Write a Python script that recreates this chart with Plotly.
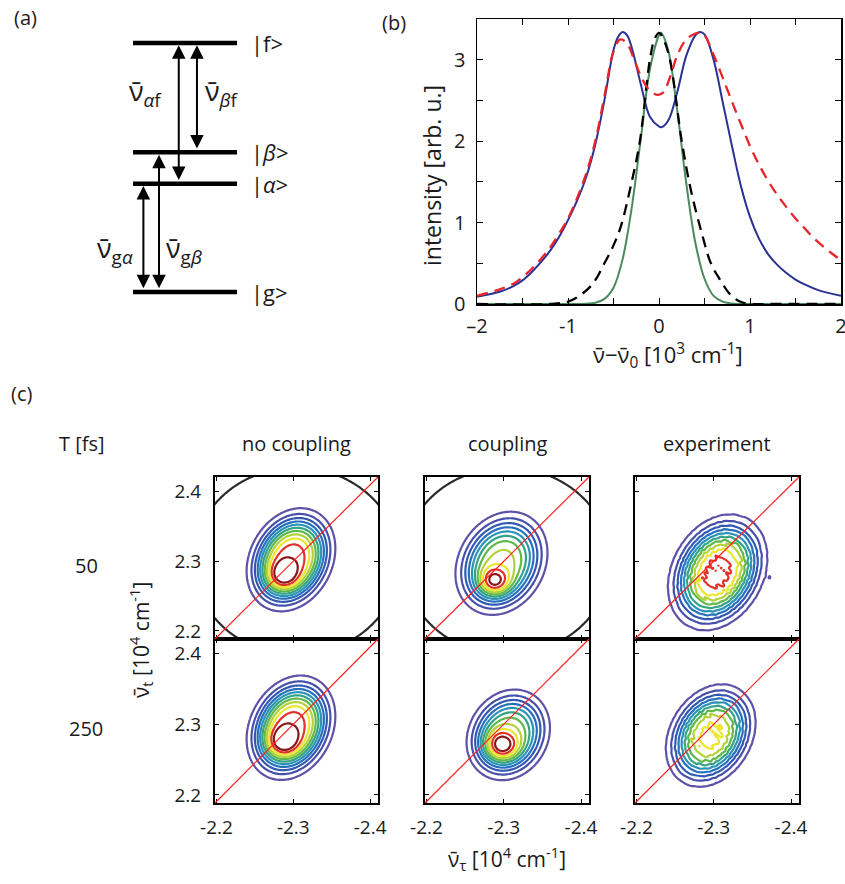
import numpy as np
import plotly.graph_objects as go

W, H = 845, 884
FONT = "Open Sans"
NU = "\u03bd\u0304"

# ---------------- panel (a): level diagram ----------------
LEVEL_LABELS = ["|g&gt;", "|<i>α</i>&gt;", "|<i>β</i>&gt;", "|f&gt;"]
LEVEL_ENERGIES = [0.0, 1.0, 1.29, 2.30]
TRANS_FROM = [1, 2, 0, 0]
TRANS_TO = [3, 3, 1, 2]
TRANS_X = [0.44, 0.615, 0.10, 0.25]
TRANS_LABELS = [NU + "<sub><i>α</i>f</sub>", NU + "<sub><i>β</i>f</sub>",
                NU + "<sub>g<i>α</i></sub>", NU + "<sub>g<i>β</i></sub>"]
TRANS_LABEL_X = [0.12, 0.86, -0.17, 0.49]
TRANS_LABEL_Y = [1.84, 1.84, 0.39, 0.39]

# ---------------- panel (b): spectra ----------------
BLUE_X = [-2.0, -1.75, -1.6, -1.5, -1.4, -1.3, -1.2, -1.1, -1.0, -0.9, -0.8, -0.7, -0.6, -0.5,
          -0.45, -0.4, -0.35, -0.3, -0.2, -0.1, 0.0, 0.025, 0.1, 0.2, 0.3, 0.4, 0.45, 0.5, 0.6,
          0.7, 0.8, 0.9, 1.0, 1.1, 1.2, 1.3, 1.4, 1.5, 1.6, 1.75, 2.0]
BLUE_Y = [0.09, 0.15, 0.22, 0.29, 0.39, 0.51, 0.65, 0.82, 1.03, 1.27, 1.56, 1.96, 2.5, 3.12,
          3.28, 3.34, 3.3, 3.15, 2.7, 2.3, 2.18, 2.17, 2.25, 2.6, 3.05, 3.3, 3.34, 3.31, 3.0,
          2.48, 1.95, 1.45, 1.07, 0.8, 0.61, 0.48, 0.38, 0.3, 0.24, 0.17, 0.1]
RED_X = [-2.0, -1.75, -1.6, -1.5, -1.4, -1.3, -1.2, -1.1, -1.0, -0.9, -0.8, -0.7, -0.6, -0.5,
         -0.425, -0.35, -0.28, -0.2, -0.13, -0.05, 0.0, 0.05, 0.125, 0.2, 0.3, 0.4, 0.45, 0.5,
         0.6, 0.7, 0.8, 0.9, 1.0, 1.1, 1.2, 1.3, 1.4, 1.5, 1.6, 1.7, 1.8, 1.9, 2.0]
RED_Y = [0.1, 0.18, 0.25, 0.33, 0.43, 0.55, 0.69, 0.86, 1.05, 1.3, 1.6, 2.0, 2.55, 3.1,
         3.25, 3.2, 3.02, 2.8, 2.66, 2.58, 2.57, 2.6, 2.8, 3.05, 3.25, 3.32, 3.33, 3.3,
         3.06, 2.78, 2.49, 2.21, 1.94, 1.71, 1.51, 1.34, 1.19, 1.05, 0.93, 0.81, 0.71, 0.62, 0.54]
BLACK_X = [-2.0, -1.2, -1.0, -0.85, -0.72, -0.6, -0.5, -0.42, -0.3, -0.21, -0.1, -0.05, 0.0,
           0.05, 0.12, 0.25, 0.35, 0.47, 0.57, 0.67, 0.78, 0.89, 1.0, 1.2, 2.0]
BLACK_Y = [0.0, 0.0, 0.03, 0.12, 0.26, 0.5, 0.72, 0.95, 1.5, 2.0, 3.0, 3.25, 3.33,
           3.25, 3.0, 2.0, 1.4, 0.87, 0.5, 0.3, 0.12, 0.03, 0.0, 0.0, 0.0]
GREEN_X = [-2.0, -1.0, -0.8, -0.7, -0.6, -0.5, -0.4, -0.3, -0.2, -0.1, 0.0, 0.02, 0.1, 0.2,
           0.3, 0.4, 0.5, 0.6, 0.7, 0.8, 1.0, 2.0]
GREEN_Y = [0.0, 0.0, 0.004, 0.016, 0.063, 0.2, 0.55, 1.18, 2.03, 2.88, 3.3, 3.33, 3.12, 2.38,
           1.48, 0.75, 0.31, 0.1, 0.03, 0.005, 0.0, 0.0]
B_XTICKS = [-2, -1.5, -1, -0.5, 0, 0.5, 1, 1.5, 2]
B_XTICKTEXT = ["\u20132", "", "-1", "", "0", "", "1", "", "2"]
B_YTICKS = [0, 0.5, 1, 1.5, 2, 2.5, 3, 3.5]
B_YTICKTEXT = ["0", "", "1", "", "2", "", "3", ""]

# ---------------- panel (c): 2D spectra ----------------
COL_TITLES = ["no coupling", "coupling", "experiment"]
ROW_LABELS = ["50", "250"]
TAU_TICKS = [-2.2, -2.3, -2.4]
TAU_TICKTEXT = ["-2.2", "-2.3", "-2.4"]
T_TICKS = [2.2, 2.3, 2.4]
CONTOUR_LEVELS = [0.08, 0.165, 0.25, 0.335, 0.42, 0.505, 0.59, 0.675, 0.76, 0.845, 0.93]
LEVEL_COLORS = ["#5d52a8", "#4650ab", "#3158b3", "#2470bf", "#2a93b8", "#33a383",
                "#5fb84a", "#b3d13a", "#ece62e", "#e2332a", "#8a1616"]
# panel order: T=50 (no coupling, coupling, experiment), T=250 (same)
BODY_U0 = [2.297, 2.297, 2.305, 2.297, 2.306, 2.296]
BODY_V0 = [2.302, 2.297, 2.284, 2.295, 2.285, 2.284]
BODY_AU = [0.043, 0.046, 0.048, 0.043, 0.042, 0.044]
BODY_AV = [0.055, 0.057, 0.062, 0.055, 0.050, 0.055]
BODY_RHO = [0.22, 0.20, 0.25, 0.22, 0.15, 0.25]
BODY_AMP = [0.90, 0.70, 0.88, 0.90, 0.65, 0.785]
PEAK_U0 = [2.286, 2.2874, 2.299, 2.286, 2.297, 2.295]
PEAK_V0 = [2.278, 2.270, 2.270, 2.274, 2.270, 2.270]
PEAK_S = [0.014, 0.014, 0.015, 0.014, 0.015, 0.015]
PEAK_AMP = [0.25, 0.35, 0.0, 0.25, 0.40, 0.0]
BLOB_U0 = [0.0, 0.0, 2.373, 0.0, 0.0, 0.0]
BLOB_V0 = [0.0, 0.0, 2.277, 0.0, 0.0, 0.0]
BLOB_AMP = [0.0, 0.0, 0.06, 0.0, 0.0, 0.0]
IS_EXPERIMENT = [False, False, True, False, False, True]
ARC_RADIUS = [0.134, 0.134, None, None, None, None]
ARC_CENTER = (2.304, 2.300)
RIPPLE_KU = [430.0, 610.0, 530.0]
RIPPLE_KV = [380.0, 470.0, 660.0]
RIPPLE_PHASE = [0.3, 1.7, 2.9]
RIPPLE_AMP = 0.06


def px_x(p):
    """reference pixel -> paper fraction"""
    return p / W


def px_y(p):
    return 1 - p / H


fig = go.Figure()
annotations = []
shapes = []

# ---------- panel (a) ----------
A_LEFT, A_UNIT_X = 133.0, 104.0
A_G, A_UNIT_Y = 292.0, 108.26
A_DOM_X = (0.0, 338.0)
A_DOM_Y = (0.0, 330.0)
for e in LEVEL_ENERGIES:
    fig.add_trace(go.Scatter(x=[0, 1], y=[e, e], mode="lines", line=dict(color="black", width=4.5),
                             xaxis="x", yaxis="y", showlegend=False, hoverinfo="skip"))
for lab, e in zip(LEVEL_LABELS, LEVEL_ENERGIES):
    annotations.append(dict(x=1.12, y=e, xref="x", yref="y", text=lab, showarrow=False,
                            xanchor="left", yanchor="middle", font=dict(size=22)))
half = 2.3 / A_UNIT_Y
for i in range(len(TRANS_FROM)):
    e0 = LEVEL_ENERGIES[TRANS_FROM[i]]
    e1 = LEVEL_ENERGIES[TRANS_TO[i]]
    annotations.append(dict(x=TRANS_X[i], y=e1 - half, ax=TRANS_X[i], ay=e0 + half,
                            xref="x", yref="y", axref="x", ayref="y", text="", showarrow=True,
                            arrowhead=2, startarrowhead=2, arrowside="end+start",
                            arrowsize=1.35, startarrowsize=1.35, arrowwidth=2, arrowcolor="black"))
    annotations.append(dict(x=TRANS_LABEL_X[i], y=TRANS_LABEL_Y[i], xref="x", yref="y",
                            text=TRANS_LABELS[i], showarrow=False, font=dict(size=27),
                            xanchor="center", yanchor="middle"))

layout_axes = {}
layout_axes["xaxis"] = dict(domain=[px_x(A_DOM_X[0]), px_x(A_DOM_X[1])], autorange=False,
                            range=[(A_DOM_X[0] - A_LEFT) / A_UNIT_X, (A_DOM_X[1] - A_LEFT) / A_UNIT_X],
                            visible=False, anchor="y", fixedrange=True, automargin=False)
layout_axes["yaxis"] = dict(domain=[px_y(A_DOM_Y[1]), px_y(A_DOM_Y[0])], autorange=False,
                            range=[(A_G - A_DOM_Y[1]) / A_UNIT_Y, (A_G - A_DOM_Y[0]) / A_UNIT_Y],
                            visible=False, anchor="x", fixedrange=True, automargin=False)

# ---------- panel (b) ----------
fig.add_trace(go.Scatter(x=BLUE_X, y=BLUE_Y, mode="lines", line=dict(color="#2a3193", width=2, shape="spline"),
                         xaxis="x2", yaxis="y2", showlegend=False))
fig.add_trace(go.Scatter(x=GREEN_X, y=GREEN_Y, mode="lines", line=dict(color="#4b8a5e", width=2, shape="spline"),
                         xaxis="x2", yaxis="y2", showlegend=False))
fig.add_trace(go.Scatter(x=BLACK_X, y=BLACK_Y, mode="lines",
                         line=dict(color="black", width=2.3, shape="spline", dash="11px,7px"),
                         xaxis="x2", yaxis="y2", showlegend=False))
fig.add_trace(go.Scatter(x=RED_X, y=RED_Y, mode="lines",
                         line=dict(color="#e8232a", width=2.3, shape="spline", dash="11px,7px"),
                         xaxis="x2", yaxis="y2", showlegend=False))
axis_common = dict(showgrid=False, zeroline=False, showline=True, linecolor="black", mirror="ticks",
                   ticks="inside", tickcolor="black", fixedrange=True, autorange=False, automargin=False,
                   ticklabeloverflow="allow")
layout_axes["xaxis2"] = dict(axis_common, domain=[px_x(477), px_x(841)], anchor="y2", range=[-2, 2],
                             tickvals=B_XTICKS, ticktext=B_XTICKTEXT, ticklen=6, linewidth=1.5,
                             tickfont=dict(size=20), ticklabelstandoff=3)
layout_axes["yaxis2"] = dict(axis_common, domain=[px_y(304), px_y(19)], anchor="x2", range=[0, 3.5],
                             tickvals=B_YTICKS, ticktext=B_YTICKTEXT, ticklen=6, linewidth=1.5,
                             tickfont=dict(size=20), ticklabelstandoff=6)

# ---------- panel (c) ----------
COL_PX = [(215, 378), (425, 589), (635, 799)]
ROW_PX = [(477, 639), (639, 803)]
X_RANGE = [-2.198, -2.4103]
Y_RANGE = [2.1885, 2.4205]

n_lev = len(CONTOUR_LEVELS)
colorscale = [[k / (n_lev - 1), c] for k, c in enumerate(LEVEL_COLORS)]
step = CONTOUR_LEVELS[1] - CONTOUR_LEVELS[0]


def field(i, xs, ys):
    X, Y = np.meshgrid(xs, ys)
    U = -X
    V = Y
    du = (U - BODY_U0[i]) / BODY_AU[i]
    dv = (V - BODY_V0[i]) / BODY_AV[i]
    r = BODY_RHO[i]
    m2 = (du ** 2 - 2 * r * du * dv + dv ** 2) / (1 - r ** 2)
    z = BODY_AMP[i] * np.exp(-np.power(m2, 1.5))
    if PEAK_AMP[i] > 0:
        z += PEAK_AMP[i] * np.exp(-((U - PEAK_U0[i]) ** 2 + (V - PEAK_V0[i]) ** 2) / (2 * PEAK_S[i] ** 2))
    if IS_EXPERIMENT[i]:
        rip = np.zeros_like(z)
        for ku, kv, ph in zip(RIPPLE_KU, RIPPLE_KV, RIPPLE_PHASE):
            rip += np.sin(ku * U + kv * V + ph)
        z = z * (1 + RIPPLE_AMP * rip / len(RIPPLE_KU))
    if BLOB_AMP[i] > 0:
        z += BLOB_AMP[i] * np.exp(-((U - BLOB_U0[i]) ** 2 + (V - BLOB_V0[i]) ** 2) / (2 * 0.003 ** 2))
    return z


for i in range(6):
    row, col = divmod(i, 3)
    ax_id = i + 3
    xa, ya = f"x{ax_id}", f"y{ax_id}"
    if IS_EXPERIMENT[i]:
        xs = np.arange(-2.425, -2.185, 0.0035)
        ys = np.arange(2.185, 2.425, 0.0035)
        smooth = 0.0
    else:
        xs = np.linspace(-2.425, -2.185, 161)
        ys = np.linspace(2.185, 2.425, 161)
        smooth = 1.0
    z = field(i, xs, ys)
    fig.add_trace(go.Contour(x=xs, y=ys, z=z, xaxis=xa, yaxis=ya, autocontour=False,
                             contours=dict(start=CONTOUR_LEVELS[0], end=CONTOUR_LEVELS[-1], size=step,
                                           coloring="lines"),
                             colorscale=colorscale, zmin=CONTOUR_LEVELS[0], zmax=CONTOUR_LEVELS[-1],
                             zauto=False, showscale=False, line=dict(width=2.2, smoothing=smooth),
                             hoverinfo="skip"))
    if ARC_RADIUS[i] is not None:
        X, Y = np.meshgrid(xs, ys)
        rr = np.sqrt((-X - ARC_CENTER[0]) ** 2 + (Y - ARC_CENTER[1]) ** 2)
        fig.add_trace(go.Contour(x=xs, y=ys, z=rr, xaxis=xa, yaxis=ya, autocontour=False,
                                 contours=dict(start=ARC_RADIUS[i], end=ARC_RADIUS[i] + 0.5, size=1,
                                               coloring="lines"),
                                 colorscale=[[0, "#2a2a2a"], [1, "#2a2a2a"]], showscale=False,
                                 line=dict(width=2.2), hoverinfo="skip"))
    shapes.append(dict(type="line", xref=f"{xa} domain", yref=f"{ya} domain", x0=0, y0=0, x1=1, y1=1,
                       line=dict(color="#ff2020", width=1.2)))
    cx0, cx1 = COL_PX[col]
    ry0, ry1 = ROW_PX[row]
    layout_axes[f"xaxis{ax_id}"] = dict(axis_common, domain=[px_x(cx0), px_x(cx1)], anchor=ya,
                                        range=X_RANGE, tickvals=TAU_TICKS,
                                        ticktext=TAU_TICKTEXT if row == 1 else ["", "", ""],
                                        ticklen=4, linewidth=2, tickfont=dict(size=19),
                                        ticklabelstandoff=6)
    layout_axes[f"yaxis{ax_id}"] = dict(axis_common, domain=[px_y(ry1), px_y(ry0)], anchor=xa,
                                        range=Y_RANGE, tickvals=T_TICKS,
                                        ticktext=[str(t) for t in T_TICKS] if col == 0 else ["", "", ""],
                                        ticklen=4, linewidth=2, tickfont=dict(size=19),
                                        ticklabelstandoff=8)

# ---------- text ----------
def txt(x, y, s, size=20, angle=0, xanchor="center"):
    annotations.append(dict(x=px_x(x), y=px_y(y), xref="paper", yref="paper", text=s, showarrow=False,
                            font=dict(size=size), textangle=angle, xanchor=xanchor, yanchor="middle"))


txt(12, 17, "(a)", xanchor="left")
txt(380, 22, "(b)", xanchor="left")
txt(9, 393, "(c)", xanchor="left")
txt(668, 355, NU + "\u2212" + NU + "<sub>0</sub> [10<sup>3</sup> cm<sup>-1</sup>]", size=22)
txt(432, 176, "intensity [arb. u.]", size=23, angle=-90)
txt(82, 443, "T [fs]")
for lab, (ry0, ry1) in zip(ROW_LABELS, ROW_PX):
    txt(86, (ry0 + ry1) / 2 + 7, lab)
for t, (cx0, cx1) in zip(COL_TITLES, COL_PX):
    txt((cx0 + cx1) / 2, 443, t)
txt(140, 640, NU + "<sub>t</sub> [10<sup>4</sup> cm<sup>-1</sup>]", size=21, angle=-90)
txt(507, 858, NU + "<sub>\u03c4</sub> [10<sup>4</sup> cm<sup>-1</sup>]", size=21)

fig.update_layout(
    width=W, height=H, margin=dict(l=0, r=0, t=0, b=0, pad=0, autoexpand=False),
    paper_bgcolor="white", plot_bgcolor="white",
    font=dict(family=FONT, size=19, color="#1a1a1a"),
    showlegend=False, annotations=annotations, shapes=shapes,
    **layout_axes,
)
fig.write_html("out.html", config={"displayModeBar": False, "staticPlot": True},
               post_script="document.body.style.margin='0';document.body.style.overflow='hidden';")
